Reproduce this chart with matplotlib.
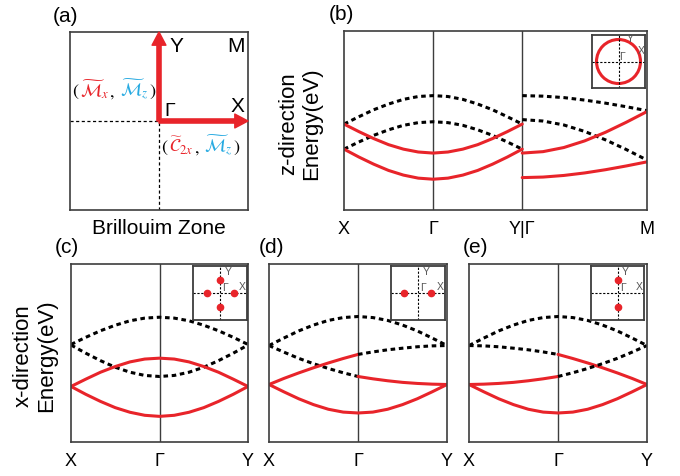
import numpy as np
import matplotlib
matplotlib.use('Agg')
import matplotlib.pyplot as plt
from matplotlib import transforms
from matplotlib.patches import Circle

plt.rcParams['font.family'] = ['Liberation Sans', 'DejaVu Sans']
plt.rcParams['mathtext.fontset'] = 'stix'

RED = '#e8242a'
CYAN = '#27aae1'
EDGE = '#3d3d3d'
W, H = 680, 477

# k-path grids (X -> Gamma -> Y, and Gamma -> M for panel b)
k_xy = np.linspace(0, 2, 13)
k_gm = np.linspace(2, 3.4, 7)

# (b) z-direction, X -> Gamma -> Y
b_dash_hi = [.480, .521, .560, .592, .618, .634, .639, .634, .618, .592, .560, .521, .480]
b_dash_lo = [.340, .380, .417, .448, .473, .488, .493, .488, .473, .448, .417, .380, .340]
b_red_hi = [.480, .438, .399, .365, .340, .324, .318, .324, .340, .365, .399, .438, .480]
b_red_lo = [.340, .296, .256, .221, .195, .178, .172, .178, .195, .221, .256, .296, .340]
# (b) Gamma -> M
bm_dash_hi = [.639, .636, .628, .614, .597, .577, .555]
bm_dash_lo = [.505, .497, .475, .439, .392, .338, .279]
bm_red_hi = [.318, .326, .349, .386, .434, .490, .550]
bm_red_lo = [.181, .184, .193, .207, .225, .246, .269]

# (c) x-direction, four dots
c_dash_hi = [.548, .588, .625, .656, .681, .696, .701, .696, .681, .656, .625, .588, .548]
c_dash_lo = [.545, .499, .457, .420, .392, .374, .368, .374, .392, .420, .457, .499, .545]
c_red_hi = [.312, .353, .392, .424, .450, .466, .471, .466, .450, .424, .392, .353, .312]
c_red_lo = [.312, .268, .228, .193, .167, .150, .144, .150, .167, .193, .228, .268, .312]

# (d) x-direction, dots on kx
d_arch = [.542, .584, .624, .657, .683, .699, .705, .699, .683, .657, .624, .584, .542]
d_band1 = [.542, .505, .470, .440, .413, .389, .368, .355, .344, .335, .329, .325, .323]  # dashed | red
d_band2 = [.323, .357, .388, .417, .444, .469, .492, .506, .518, .527, .535, .540, .542]  # red | dashed
d_red_lo = [.323, .282, .243, .210, .184, .168, .163, .168, .184, .210, .243, .282, .323]

# (e) x-direction, dots on ky
e_arch = [.542, .584, .624, .657, .683, .699, .705, .699, .683, .657, .624, .584, .542]
e_band1 = [.542, .540, .535, .527, .518, .506, .492, .469, .444, .417, .388, .357, .323]  # dashed | red
e_band2 = [.323, .325, .329, .335, .344, .355, .368, .389, .413, .440, .470, .505, .542]  # red | dashed
e_red_lo = [.323, .282, .243, .210, .184, .168, .163, .168, .184, .210, .243, .282, .323]

# inset dot positions
c_dots_x, c_dots_y = [0, -0.5, 0.5, 0], [0.5, 0, 0, -0.5]
d_dots_x, d_dots_y = [-0.5, 0.5], [0, 0]
e_dots_x, e_dots_y = [0, 0], [0.5, -0.5]

DASH = dict(color='black', lw=2.2, linestyle=(0, (1.5, 1.2)), dash_capstyle='butt')
SOLID = dict(color=RED, lw=2.2, solid_capstyle='round')

fig = plt.figure(figsize=(W / 100, H / 100), dpi=100)


def px_axes(x0, y0, x1, y1):
    return fig.add_axes([x0 / W, 1 - y1 / H, (x1 - x0) / W, (y1 - y0) / H])


def frame(ax, lw=1.2):
    for s in ax.spines.values():
        s.set_color(EDGE)
        s.set_linewidth(lw)


def style_band(ax, ticks, labels, xmax, vlines):
    ax.set_xlim(0, xmax)
    ax.set_ylim(0, 1)
    ax.set_xticks(ticks, labels)
    ax.set_yticks([])
    ax.tick_params(length=0, pad=7, labelsize=13)
    frame(ax)
    for v in vlines:
        ax.axvline(v, color=EDGE, lw=1.0, zorder=1)


def split_band(ax, vals, left, right):
    ax.plot(k_xy[:7], vals[:7], **left)
    ax.plot(k_xy[6:], vals[6:], **right)


def inset(rect, circle=False, dx=None, dy=None, lab=None):
    ia = px_axes(*rect)
    ia.set_xlim(-1, 1)
    ia.set_ylim(-1, 1)
    ia.set_xticks([])
    ia.set_yticks([])
    frame(ia, 1.3)
    ia.plot([-1, 1], [0, 0], color='black', lw=0.8, ls=(0, (2, 1.5)))
    ia.plot([0, 0], [-1, 1], color='black', lw=0.8, ls=(0, (2, 1.5)))
    if circle:
        ia.add_patch(Circle((0, 0), 0.83, fill=False, ec=RED, lw=2.2))
    if dx is not None:
        ia.plot(dx, dy, 'o', color=RED, ms=4.5)
    (yx, yy), (gx, gy), (xx, xy) = lab
    kw = dict(fontsize=7.5, color='#555555', ha='center', va='center')
    ia.text(yx, yy, 'Y', **kw)
    ia.text(gx, gy, 'Γ', **kw)
    ia.text(xx, xy, 'X', **kw)


def rainbow(ax, x, y, pieces, size):
    trans = ax.transAxes
    r = fig.canvas.get_renderer()
    for s, c, gap in pieces:
        t = ax.text(x, y, s, color=c, fontsize=size, transform=trans, va='baseline')
        ex = t.get_window_extent(r)
        trans = transforms.offset_copy(t.get_transform(), x=ex.width + gap, units='dots')


# ---- (a) Brillouin zone
ax_a = px_axes(70, 33, 248, 211)
ax_a.set_xlim(-1, 1)
ax_a.set_ylim(-1, 1)
ax_a.set_xticks([])
ax_a.set_yticks([])
frame(ax_a)
ax_a.plot([-1, 0], [0, 0], color='black', lw=0.9, ls=(0, (2.5, 2)))
ax_a.plot([0, 0], [-1, 0], color='black', lw=0.9, ls=(0, (2.5, 2)))
arr = dict(arrowstyle='simple,head_width=1.0,head_length=0.95,tail_width=0.3',
           color=RED, shrinkA=0, shrinkB=0, mutation_scale=10)
ax_a.annotate('', xy=(0, 1), xytext=(0, 0), arrowprops=arr)
ax_a.annotate('', xy=(1, 0), xytext=(0, 0), arrowprops=arr)
ax_a.text(0.2, 0.85, 'Y', fontsize=15, ha='center', va='center')
ax_a.text(0.86, 0.85, 'M', fontsize=15, ha='center', va='center')
ax_a.text(0.12, 0.12, 'Γ', fontsize=14, ha='center', va='center')
ax_a.text(0.88, 0.17, 'X', fontsize=15, ha='center', va='center')
ax_a.text(0.5, -0.096, 'Brillouim Zone', transform=ax_a.transAxes,
          ha='center', va='center', fontsize=15)
fig.canvas.draw()
rainbow(ax_a, 0.01, 0.645, [('$($', 'black', 1), (r'$\widetilde{\mathcal{M}}_x$', RED, 0),
                           ('$,$', 'black', 5), (r'$\widetilde{\mathcal{M}}_z$', CYAN, 1),
                           ('$)$', 'black', 0)], 13)
rainbow(ax_a, 0.51, 0.33, [('$($', 'black', 1), (r'$\widetilde{\mathcal{C}}_{2x}$', RED, 0),
                          ('$,$', 'black', 5), (r'$\widetilde{\mathcal{M}}_z$', CYAN, 1),
                          ('$)$', 'black', 0)], 13)

# ---- (b) z-direction
ax_b = px_axes(344, 32, 647, 211)
style_band(ax_b, [0, 1, 2, 3.4], ['X', 'Γ', 'Y|Γ', 'M'], 3.4, [1, 2])
ax_b.plot(k_xy, b_dash_hi, **DASH)
ax_b.plot(k_xy, b_dash_lo, **DASH)
ax_b.plot(k_xy, b_red_hi, **SOLID)
ax_b.plot(k_xy, b_red_lo, **SOLID)
ax_b.plot(k_gm, bm_dash_hi, **DASH)
ax_b.plot(k_gm, bm_dash_lo, **DASH)
ax_b.plot(k_gm, bm_red_hi, **SOLID)
ax_b.plot(k_gm, bm_red_lo, **SOLID)
inset((592, 36, 645, 89), circle=True, lab=[(0.45, 0.87), (0.15, 0.19), (0.84, 0.42)])

# ---- (c), (d), (e) x-direction
ax_c = px_axes(71, 265, 248, 443)
ax_d = px_axes(269, 265, 447, 443)
ax_e = px_axes(469, 265, 647, 443)
for ax in (ax_c, ax_d, ax_e):
    style_band(ax, [0, 1, 2], ['X', 'Γ', 'Y'], 2, [1])

ax_c.plot(k_xy, c_dash_hi, **DASH)
ax_c.plot(k_xy, c_dash_lo, **DASH)
ax_c.plot(k_xy, c_red_hi, **SOLID)
ax_c.plot(k_xy, c_red_lo, **SOLID)

ax_d.plot(k_xy, d_arch, **DASH)
split_band(ax_d, d_band1, DASH, SOLID)
split_band(ax_d, d_band2, SOLID, DASH)
ax_d.plot(k_xy, d_red_lo, **SOLID)

ax_e.plot(k_xy, e_arch, **DASH)
split_band(ax_e, e_band1, DASH, SOLID)
split_band(ax_e, e_band2, SOLID, DASH)
ax_e.plot(k_xy, e_red_lo, **SOLID)

lab_in = [(0.3, 0.8), (0.19, 0.22), (0.82, 0.26)]
inset((193, 267, 247, 321), dx=c_dots_x, dy=c_dots_y, lab=lab_in)
inset((391, 267, 445, 321), dx=d_dots_x, dy=d_dots_y, lab=lab_in)
inset((591, 267, 644, 321), dx=e_dots_x, dy=e_dots_y, lab=lab_in)

# axis titles and panel letters
fig.text(300 / W, 1 - 124 / H, 'z-direction\nEnergy(eV)', rotation=90, ha='center',
         va='center', fontsize=16, linespacing=1.1, multialignment='center')
fig.text(35 / W, 1 - 356 / H, 'x-direction\nEnergy(eV)', rotation=90, ha='center',
         va='center', fontsize=16, linespacing=1.1, multialignment='center')
for lbl, x, y in [('(a)', 65, 16), ('(b)', 341, 15), ('(c)', 67, 248),
                  ('(d)', 272, 248), ('(e)', 476, 248)]:
    fig.text(x / W, 1 - y / H, lbl, ha='center', va='center', fontsize=15)

fig.savefig('out.png', dpi=100)
